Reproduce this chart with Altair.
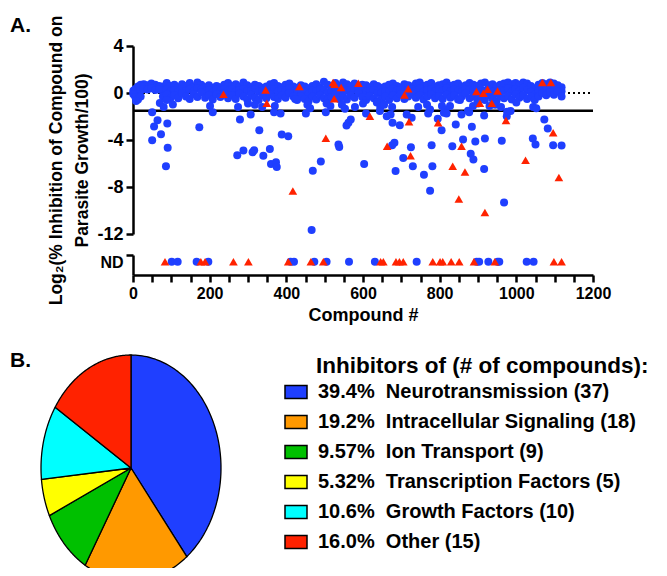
import altair as alt
import pandas as pd

FONT = "Liberation Sans, Arial, sans-serif"
BLUE = "#1F3FFF"
RED = "#FF2200"

# ---------------- Panel A data ----------------
# dense band of inactive compounds (compound #, log2 value)
band_x = [1, 6, 13, 20,
          28, 38, 48, 58, 68, 78, 88, 98, 108, 118,
          128, 138, 148, 158, 168, 178, 188, 198, 208, 218,
          228, 238, 248, 258, 268, 278, 288, 298, 308, 318,
          328, 338, 348, 358, 368, 378, 388, 398, 408, 418,
          428, 438, 448, 458, 468, 478, 488, 498, 508, 518,
          528, 538, 548, 558, 568, 578, 588, 598, 608, 618,
          628, 638, 648, 658, 668, 678, 688, 698, 708, 718,
          728, 738, 748, 758, 768, 778, 788, 798, 808, 818,
          828, 838, 848, 858, 868, 878, 888, 898, 908, 918,
          928, 938, 948, 958, 968, 978, 988, 998, 1008, 1018,
          1028, 1038, 1048, 1058, 1068, 1078, 1088, 1098, 1108, 1118]
band_hi = [0.05, 0.35, 0.55, 0.7,
           0.75, 0.65, 0.8, 0.7, 0.6, 0.55, 0.85, 0.6, 0.7, 0.5,
           0.75, 0.6, 0.85, 0.55, 0.9, 0.7, 0.5, 0.65, 0.45, 0.6,
           0.5, 0.7, 0.85, 0.6, 0.75, 0.55, 0.9, 0.65, 0.5, 0.7,
           0.6, 0.45, 0.55, 0.75, 0.85, 0.6, 0.5, 0.7, 0.8, 0.55,
           0.45, 0.65, 0.55, 0.4, 0.6, 0.75, 0.5, 0.95, 0.7, 0.5,
           0.85, 0.6, 0.9, 0.75, 0.6, 0.8, 0.55, 0.7, 0.65, 0.5,
           0.75, 0.6, 0.45, 0.55, 0.7, 0.8, 0.6, 0.5, 0.75, 0.65,
           0.55, 0.8, 0.9, 0.6, 0.7, 0.85, 0.55, 0.65, 0.75, 0.9,
           0.6, 0.7, 0.8, 0.55, 0.65, 0.85, 0.7, 0.6, 0.8, 0.9,
           0.65, 0.75, 0.55, 0.7, 0.8, 0.9, 0.75, 0.85, 0.7, 0.9,
           0.8, 0.6, 0.4, 0.7, 0.85, 0.75, 0.9, 0.8, 0.65, 0.5]
band_mid = [0.2, 0.1, 0.15, 0.25,
            0.55, 0.5, 0.6, 0.45, 0.5, 0.2, 0.3, 0.15, 0.25, 0.1,
            0.35, 0.2, 0.3, 0.15, 0.4, 0.3, 0.1, 0.25, 0.05, 0.3,
            0.15, 0.35, 0.2, 0.3, 0.1, 0.25, 0.35, 0.15, 0.2, 0.3,
            0.1, 0.2, 0.05, 0.3, 0.35, 0.15, 0.25, 0.2, 0.4, 0.1,
            0.05, 0.25, 0.1, -0.1, 0.2, 0.15, 0.3, 0.25, 0.05, 0.15,
            0.4, 0.1, 0.35, 0.2, 0.25, 0.3, 0.35, 0.15, 0.1, 0.2,
            0.25, 0.0, 0.05, 0.15, 0.1, 0.35, 0.2, 0.25, 0.15, 0.3,
            0.3, 0.2, 0.4, 0.1, 0.25, 0.35, 0.15, 0.3, 0.2, 0.4,
            0.15, 0.3, 0.2, 0.1, 0.35, 0.25, 0.3, 0.05, 0.25, 0.2,
            0.3, 0.1, -0.05, 0.25, 0.2, 0.4, 0.15, 0.35, 0.2, 0.45,
            0.25, 0.1, -0.1, 0.2, 0.45, 0.3, 0.5, 0.4, 0.35, 0.15]
band_lo = [-0.1, -0.35, -0.55, -0.3,
           0.35, 0.3, 0.4, 0.25, 0.3, -0.3, -0.1, -0.45, -0.2, -0.45,
           0.0, -0.3, -0.5, -0.1, -0.35, 0.05, -0.4, -0.2, -0.55, -0.1,
           -0.35, 0.0, -0.45, -0.2, -0.5, -0.05, -0.3, -0.55, -0.15, -0.4,
           -0.6, -0.2, -0.45, -0.1, -0.35, -0.5, -0.2, -0.4, 0.0, -0.3,
           -0.6, -0.25, -0.5, -0.7, -0.3, -0.55, -0.2, -0.45, -0.6, -0.35,
           -0.1, -0.5, -0.3, -0.55, -0.2, -0.4, 0.0, -0.35, -0.6, -0.25,
           -0.45, -0.7, -0.5, -0.3, -0.6, -0.2, -0.45, -0.1, -0.5, -0.3,
           0.0, -0.4, -0.2, -0.55, -0.3, -0.1, -0.45, -0.25, -0.5, -0.15,
           -0.4, -0.2, -0.55, -0.3, -0.05, -0.45, -0.25, -0.6, -0.35, -0.6,
           -0.2, -0.5, -0.7, -0.3, -0.45, -0.25, -0.55, -0.1, -0.4, -0.2,
           -0.5, -0.3, -0.6, -0.3, 0.0, -0.2, 0.05, -0.15, 0.1, -0.3]
# points just below the band
dip_x = [8, 70, 80, 88, 104, 201, 274, 300, 318, 337, 370, 423, 455, 462, 505,
         515, 545, 553, 579, 600, 636, 645, 655, 676, 744, 767, 775, 806, 815, 827,
         853, 874, 887, 900, 930, 945, 960, 976, 1000, 1044, 1052]
dip_y = [-0.68, -0.85, -1.2, -0.6, -0.97, -1.1, -1.2, -0.9, -1.0, -1.2, -1.1, -0.5, -1.0, -1.3, -0.9,
         -1.1, -1.0, -1.35, -1.2, -0.9, -0.8, -1.2, -1.0, -1.2, -1.2, -1.0, -1.4, -1.1, -1.4, -1.1,
         -0.6, -1.5, -1.1, -0.9, -1.1, -1.0, -1.2, -1.6, -0.8, -1.2, -1.3]
# blue hits
hit_x = [50, 64, 55, 89.5, 73, 50, 90.5, 86, 173, 208, 279, 307, 329.5, 272, 288,
         312, 316, 340, 357, 360, 373, 375, 388, 405, 368, 385, 451, 469, 490, 466,
         503, 536, 538, 557, 562, 568, 603, 608, 644, 662, 672, 677, 696, 727, 714,
         770, 795, 805, 811, 818, 842, 857, 877, 884, 916, 975, 985, 1073, 1082, 1043,
         1050, 1096, 1118, 676, 682, 725, 705, 730, 685, 779, 781, 759, 775, 833, 861,
         893, 918, 962, 881, 888, 916, 968]
hit_y = [-1.63, -2.31, -2.85, -2.59, -3.51, -4.02, -4.67, -6.24, -2.91, -1.63, -2.25, -1.82, -3.17, -5.30, -4.90,
         -5.05, -4.88, -5.33, -4.76, -6.04, -5.90, -6.30, -3.53, -3.68, -1.63, -1.74, -1.74, -6.61, -5.84, -11.66,
         -1.63, -4.39, -4.59, -2.76, -2.53, -2.25, -6.04, -1.74, -1.54, -1.97, -1.82, -2.53, -2.74, -2.11, -1.82,
         -1.74, -2.19, -3.17, -1.68, -1.74, -2.68, -1.82, -1.63, -2.87, -1.91, -1.97, -1.54, -2.25, -3.02, -3.88,
         -4.39, -4.45, -4.47, -4.45, -4.24, -4.62, -5.53, -6.24, -6.64, -4.45, -6.24, -6.95, -8.32, -4.53, -3.96,
         -4.13, -3.88, -4.07, -5.18, -5.67, -6.47, -9.32]
# red triangles
tri_x = [236, 346, 349, 434, 522, 526, 525, 543, 588, 718, 708, 896, 914, 925, 951,
         905, 936, 1068, 1090, 503, 417, 618, 720, 796, 973, 1096, 1024, 1111, 663, 724,
         857, 834, 866, 850, 918]
tri_y = [-0.11, 0.26, -0.88, 0.55, 0.9, 0.75, -0.48, 0.46, 0.83, 0.37, -0.17, 0.12, -0.03, 0.32, 0.17,
         -0.88, -0.88, 0.89, 0.89, -3.85, -8.35, -1.97, -2.45, -2.53, -2.34, -3.39, -5.73, -7.19, -4.53, -5.33,
         -4.53, -6.24, -6.72, -9.03, -10.18]
# not determined (ND)
nd_blue_x = [101, 116.5, 166, 196.5, 411, 420, 473, 505, 563.5, 631, 740, 896.5, 903, 927, 951,
             955.5, 1027, 1045]
nd_red_x = [83.5, 177, 188, 262, 301, 405, 464, 496.5, 646, 653, 686, 695, 705, 782, 801,
            808, 830, 851, 889.5, 944, 1098, 1118]
nd_level = 2
x_domain = [0, 1200]
x_ticks = [0, 50, 100, 150, 200, 250, 300, 350, 400, 450, 500, 550, 600, 650,
           700, 750, 800, 850, 900, 950, 1000, 1050, 1100, 1150, 1200]
y_domain = [-12, 4]
y_ticks = [-12, -8, -4, 0, 4]
cutoff = [-1.5]
baseline = [0]
y_title = ["Log\u2082(% Inhibition of Compound on", "Parasite Growth/100)"]
x_title = "Compound #"

# ---------------- Panel B data ----------------
pie_names = ["Neurotransmission", "Intracellular Signaling", "Ion Transport",
             "Transcription Factors", "Growth Factors", "Other"]
pie_counts = [37, 18, 9, 5, 10, 15]
pie_pct = ["39.4%", "19.2%", "9.57%", "5.32%", "10.6%", "16.0%"]
pie_colors = ["#1F3FFF", "#FF9900", "#00C000", "#FFFF00", "#00FFFF", "#FF2200"]
legend_title = ["Inhibitors of (# of compounds):"]
panel_letters = ["A.", "B."]

pie_labels = [f"{p}\u00a0\u00a0{n} ({c})" for p, n, c in zip(pie_pct, pie_names, pie_counts)]

# ---------------- geometry (chart coordinates) ----------------
H = 560
XR = [125, 585]
YR_TOP = [226, 38]
YR_ND = [267, 247]
PCX, PCY, RX, RY = 123, 460, 90, 113

xs = alt.Scale(domain=x_domain, range=XR, nice=False, zero=False)
ys = alt.Scale(domain=y_domain, range=YR_TOP, nice=False, zero=False)
ysn = alt.Scale(domain=[0, 3], range=YR_ND, nice=False, zero=False)

axis_style = dict(labelFont=FONT, labelFontWeight="bold", labelColor="black",
                  tickColor="black", tickWidth=2.5, tickSize=7, domainColor="black",
                  domainWidth=2.5, grid=False, titleFont=FONT, titleFontWeight="bold",
                  titleColor="black")

ax_top = alt.Axis(orient="left", offset=-XR[0], values=y_ticks, labelExpr="'' + datum.value",
                  labelFontSize=18, labelPadding=3, title=y_title, titleFontSize=17.5,
                  titleAngle=-90, titleAlign="center", titleBaseline="bottom",
                  titleX=-68, titleY=152, titleLineHeight=26, **axis_style)
ax_nd = alt.Axis(orient="left", offset=-XR[0], values=[3], labelExpr="'ND'", labelOffset=7,
                 labelFontSize=16, labelPadding=3, title=None, **axis_style)
ax_x = alt.Axis(orient="bottom", offset=-(H - YR_ND[0]), values=x_ticks,
                labelExpr="datum.value % 200 == 0 ? '' + datum.value : ''",
                labelOverlap=False, labelFlush=False, labelFontSize=16, labelPadding=3,
                title=x_title, titleFontSize=18, titlePadding=5, **axis_style)

blue_df = pd.DataFrame({"x": band_x + band_x + band_x + dip_x + hit_x,
                        "y": band_hi + band_mid + band_lo + dip_y + hit_y})
red_df = pd.DataFrame({"x": tri_x, "y": tri_y})
nd_blue_df = pd.DataFrame({"x": nd_blue_x, "y": [nd_level] * len(nd_blue_x)})
nd_red_df = pd.DataFrame({"x": nd_red_x, "y": [nd_level] * len(nd_red_x)})

base_line = alt.Chart(pd.DataFrame({"y": baseline, "x0": x_domain[:1], "x1": x_domain[1:]})).mark_rule(
    color="black", strokeWidth=2, strokeDash=[2, 3]).encode(
    x=alt.X("x0:Q", scale=xs, axis=None), x2="x1:Q", y=alt.Y("y:Q", scale=ys, axis=None))
cut_line = alt.Chart(pd.DataFrame({"y": cutoff, "x0": x_domain[:1], "x1": x_domain[1:]})).mark_rule(
    color="black", strokeWidth=2.5).encode(
    x=alt.X("x0:Q", scale=xs, axis=None), x2="x1:Q", y=alt.Y("y:Q", scale=ys, axis=None))

blue = alt.Chart(blue_df).mark_circle(size=64, color=BLUE, opacity=1).encode(
    x=alt.X("x:Q", scale=xs, axis=None), y=alt.Y("y:Q", scale=ys, axis=ax_top))
red = alt.Chart(red_df).mark_point(shape="triangle-up", filled=True, size=75, color=RED, opacity=1).encode(
    x=alt.X("x:Q", scale=xs, axis=None), y=alt.Y("y:Q", scale=ys, axis=None))
nd_blue = alt.Chart(nd_blue_df).mark_circle(size=64, color=BLUE, opacity=1).encode(
    x=alt.X("x:Q", scale=xs, axis=ax_x), y=alt.Y("y:Q", scale=ysn, axis=ax_nd))
nd_red = alt.Chart(nd_red_df).mark_point(shape="triangle-up", filled=True, size=75, color=RED, opacity=1).encode(
    x=alt.X("x:Q", scale=xs, axis=None), y=alt.Y("y:Q", scale=ysn, axis=None))

pie_df = pd.DataFrame({"label": pie_labels, "count": pie_counts})
leg = alt.Legend(orient="none", legendX=276, legendY=372, title=None, direction="vertical",
                 symbolType="M-1,-0.6L1,-0.6L1,0.6L-1,0.6Z", symbolSize=484,
                 symbolStrokeColor="black", symbolStrokeWidth=1.5, symbolOpacity=1,
                 labelFont=FONT, labelFontSize=20, labelFontWeight="bold", labelColor="black",
                 labelOffset=10, labelLimit=500, rowPadding=8, padding=0)
pie = alt.Chart(pie_df).transform_window(
    rn="row_number()"
).transform_window(
    cum="sum(count)", sort=[alt.SortField("rn")]
).transform_joinaggregate(
    total="sum(count)"
).transform_calculate(
    a0="2 * PI * (datum.cum - datum.count) / datum.total",
    a1="2 * PI * datum.cum / datum.total",
    k="sequence(0, 102)"
).transform_flatten(["k"]).transform_calculate(
    onarc="datum.k >= 1 && datum.k <= 100",
    ang="datum.a0 + (datum.a1 - datum.a0) * clamp((datum.k - 1) / 99, 0, 1)",
).transform_calculate(
    px="datum.onarc ? sin(datum.ang) : 0",
    py="datum.onarc ? cos(datum.ang) : 0",
).mark_line(stroke="black", strokeWidth=1.3, strokeJoin="round").encode(
    x=alt.X("px:Q", scale=alt.Scale(domain=[-1, 1], range=[PCX - RX, PCX + RX], nice=False, zero=False), axis=None),
    y=alt.Y("py:Q", scale=alt.Scale(domain=[-1, 1], range=[PCY + RY, PCY - RY], nice=False, zero=False), axis=None),
    fill=alt.Fill("label:N", scale=alt.Scale(domain=pie_labels, range=pie_colors), legend=leg),
    detail="label:N",
    order="k:Q",
)

txt_a = alt.Chart(pd.DataFrame({"t": panel_letters[:1]})).mark_text(
    font=FONT, fontSize=21, fontWeight="bold", align="left", baseline="alphabetic", color="black").encode(
    text="t:N", x=alt.value(2), y=alt.value(24))
txt_b = alt.Chart(pd.DataFrame({"t": panel_letters[1:]})).mark_text(
    font=FONT, fontSize=21, fontWeight="bold", align="left", baseline="alphabetic", color="black").encode(
    text="t:N", x=alt.value(2), y=alt.value(359))
txt_leg = alt.Chart(pd.DataFrame({"t": legend_title})).mark_text(
    font=FONT, fontSize=22.5, fontWeight="bold", align="left", baseline="alphabetic", color="black").encode(
    text="t:N", x=alt.value(308), y=alt.value(365))

chart = alt.layer(
    base_line, cut_line, blue, red, nd_blue, nd_red, pie, txt_a, txt_b, txt_leg
).resolve_scale(
    x="independent", y="independent"
).properties(
    width=651, height=H, padding=0, autosize=alt.AutoSizeParams(type="none"), background="white"
).configure_view(stroke=None)

chart.save("out.html", embed_options={"renderer": "svg", "actions": False})
